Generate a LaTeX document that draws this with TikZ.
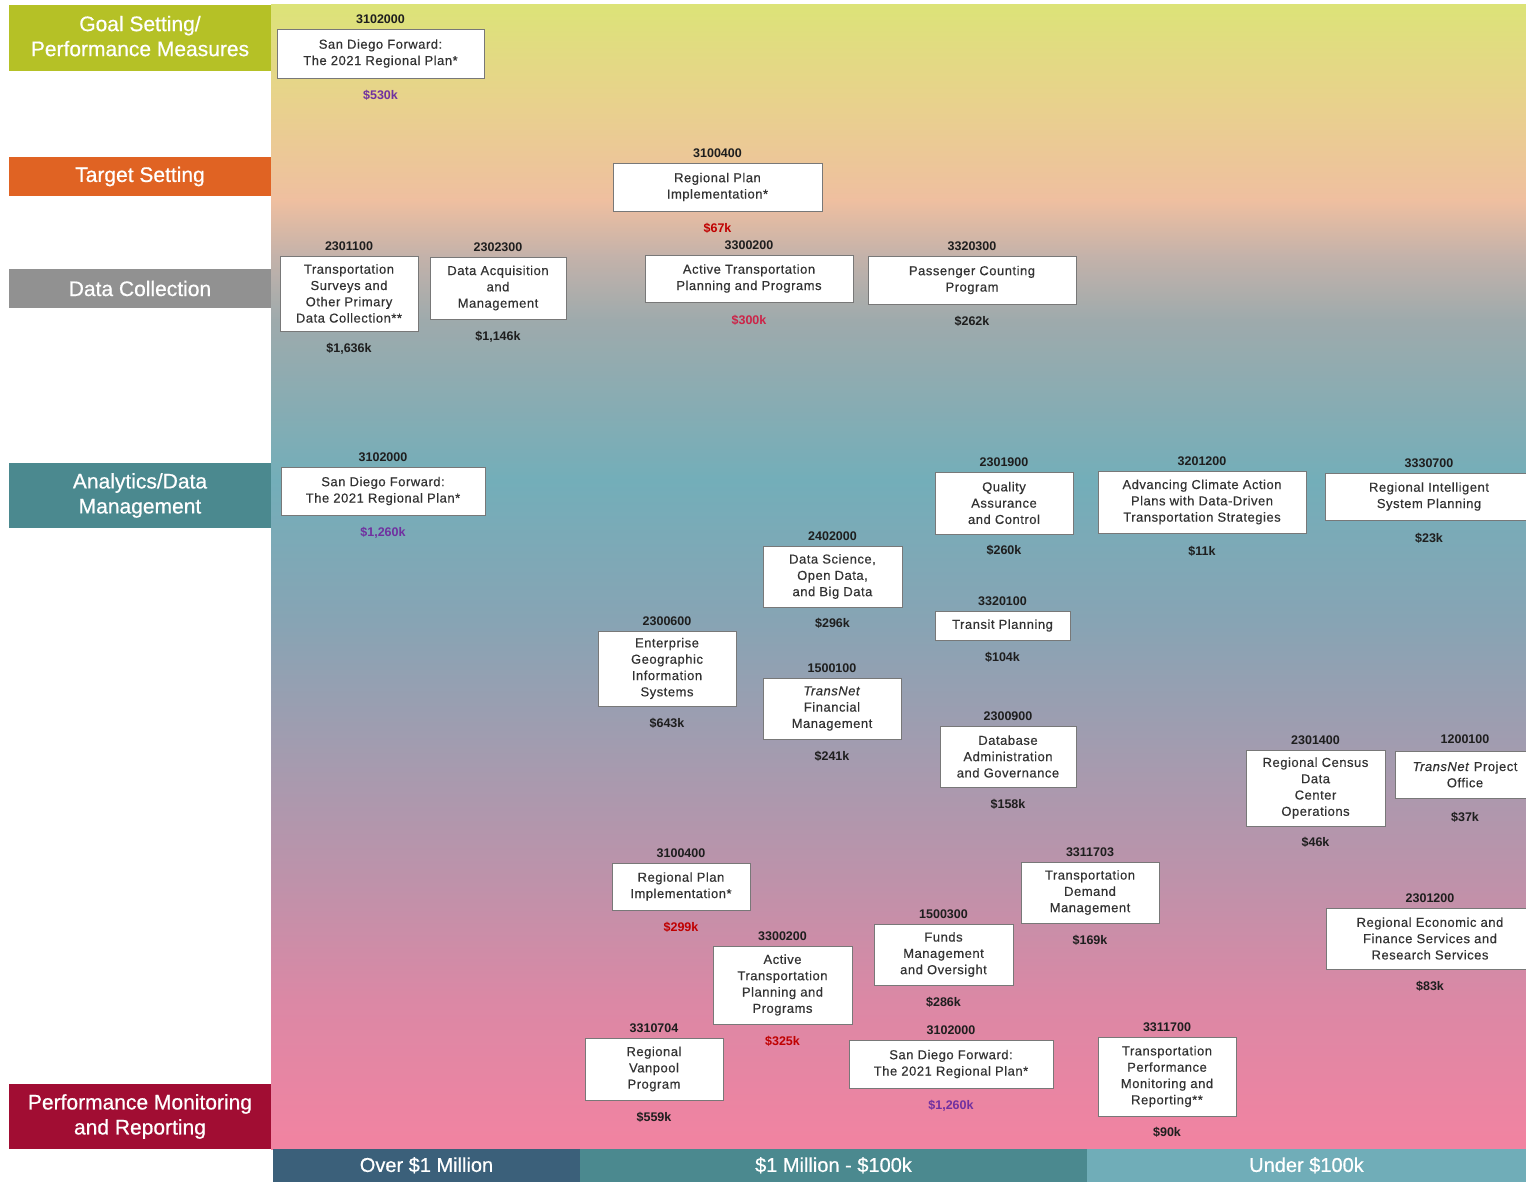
\documentclass[tikz,border=0pt]{standalone}
\usepackage{xcolor}
\usepackage{fontspec}
\setmainfont{Liberation Sans}
\newfontfamily\boxfont[LetterSpace=4,FakeBold=0.4]{Liberation Sans}
\newfontfamily\bandfont[FakeBold=0.6]{Liberation Sans}
\usetikzlibrary{positioning}

\definecolor{goalc}{RGB}{181,193,38}
\definecolor{targetc}{RGB}{224,99,35}
\definecolor{datac}{RGB}{145,145,145}
\definecolor{anac}{RGB}{75,137,143}
\definecolor{perfc}{RGB}{161,13,51}
\definecolor{overc}{RGB}{59,96,122}
\definecolor{midc}{RGB}{75,137,143}
\definecolor{underc}{RGB}{112,173,184}
\definecolor{boxline}{RGB}{120,120,120}
\definecolor{boxtext}{RGB}{50,50,50}
\definecolor{codetext}{RGB}{30,30,30}
\definecolor{amtpurple}{RGB}{112,48,160}
\definecolor{amtred}{RGB}{192,0,0}
\definecolor{amtrose}{RGB}{204,36,72}
% background stops, top to bottom
\definecolor{g0}{RGB}{220,227,120}
\definecolor{g1}{RGB}{232,210,140}
\definecolor{g2}{RGB}{239,191,160}
\definecolor{g3}{RGB}{196,178,170}
\definecolor{g4}{RGB}{158,170,172}
\definecolor{g5}{RGB}{115,174,185}
\definecolor{g6}{RGB}{135,164,180}
\definecolor{g7}{RGB}{165,155,175}
\definecolor{g8}{RGB}{190,146,170}
\definecolor{g9}{RGB}{219,136,165}
\definecolor{g10}{RGB}{242,131,161}

\tikzset{
  band/.style={fill=#1, text=white, minimum width=262pt, inner sep=0pt,
    align=center, font=\bandfont\fontsize{21}{25}\selectfont},
  bar/.style={fill=#1, text=white, minimum height=33pt, inner sep=0pt,
    text depth=2pt, font=\bandfont\fontsize{20}{24}\selectfont},
  prj/.style 2 args={draw=boxline, fill=white, line width=0.8pt, inner sep=0pt,
    minimum width=#1pt, minimum height=#2pt, align=center, text=boxtext,
    font=\boxfont\fontsize{13}{16.3}\selectfont},
  code/.style={font=\bfseries\fontsize{12.5}{14}\selectfont, text=codetext,
    inner sep=0pt, text height=9pt, text depth=0pt},
  amt/.style={font=\bfseries\fontsize{12.5}{14}\selectfont, text=#1,
    inner sep=0pt, text height=9pt, text depth=0pt},
  amt/.default=codetext
}

\begin{document}
\begin{tikzpicture}[x=1pt,y=-1pt]
  \useasboundingbox (0,0) rectangle (1526,1182);
  % background
  \foreach \ya/\yb/\ca/\cb in {5/100/g0/g1, 100/200/g1/g2, 200/255/g2/g3,
      255/320/g3/g4, 320/480/g4/g5, 480/620/g5/g6, 620/760/g6/g7,
      760/880/g7/g8, 880/1000/g8/g9, 1000/1149/g9/g10}
    \shade[top color=\ca, bottom color=\cb] (271,\ya) rectangle (1526,\yb+0.6);

  % left bands
  \node[band=goalc, minimum height=66pt] (goal) at (140,38) {Goal Setting/\\Performance Measures\rule[-4pt]{0pt}{1pt}};
  \node[band=targetc, minimum height=39pt] (target) at (140,176.5) {Target Setting};
  \node[band=datac, minimum height=39pt] (datacol) at (140,288.5) {Data Collection};
  \node[band=anac, minimum height=65pt] (analytics) at (140,495.5) {Analytics/Data\\Management\rule[-4pt]{0pt}{1pt}};
  \node[band=perfc, minimum height=65pt] (perfmon) at (140,1116.5) {Performance Monitoring\\and Reporting\rule[-4pt]{0pt}{1pt}};

  % bottom bars
  \node[bar=overc, minimum width=307pt] (over) at (426.5,1165.5) {Over \$1 Million};
  \node[bar=midc, minimum width=507pt] (mid) at (833.5,1165.5) {\$1 Million - \$100k};
  \node[bar=underc, minimum width=439pt] (under) at (1306.5,1165.5) {Under \$100k};

  % goal setting
  \node[prj={207}{49}] (g1) at (380.5,53.5) {San Diego Forward:\\The 2021 Regional Plan*};
  \node[code, above=5pt of g1] {3102000};
  \node[amt=amtpurple, below=11.5pt of g1] {\$530k};

  % target setting
  \node[prj={209}{48}] (t1) at (717.5,187) {Regional Plan\\Implementation*};
  \node[code, above=5pt of t1] {3100400};
  \node[amt=amtred, below=11.5pt of t1] {\$67k};

  % data collection
  \node[prj={138}{75}] (d1) at (349,293.5) {Transportation\\Surveys and\\Other Primary\\Data Collection**};
  \node[code, above=5pt of d1] {2301100};
  \node[amt, below=11.5pt of d1] {\$1,636k};

  \node[prj={136}{62}] (d2) at (498,288) {Data Acquisition\\and\\Management};
  \node[code, above=5pt of d2] {2302300};
  \node[amt, below=11.5pt of d2] {\$1,146k};

  \node[prj={208}{47}] (d3) at (749,278.5) {Active Transportation\\Planning and Programs};
  \node[code, above=5pt of d3] {3300200};
  \node[amt=amtrose, below=13pt of d3] {\$300k};

  \node[prj={208}{48}] (d4) at (972,280) {Passenger Counting\\Program};
  \node[code, above=5pt of d4] {3320300};
  \node[amt, below=12pt of d4] {\$262k};

  % analytics / data management
  \node[prj={204}{48}] (a1) at (383,491) {San Diego Forward:\\The 2021 Regional Plan*};
  \node[code, above=5pt of a1] {3102000};
  \node[amt=amtpurple, below=12pt of a1] {\$1,260k};

  \node[prj={138}{62}] (a2) at (1004,503) {Quality\\Assurance\\and Control};
  \node[code, above=5pt of a2] {2301900};
  \node[amt, below=11pt of a2] {\$260k};

  \node[prj={208}{62}] (a3) at (1202,502) {Advancing Climate Action\\Plans with Data-Driven\\Transportation Strategies};
  \node[code, above=5pt of a3] {3201200};
  \node[amt, below=13pt of a3] {\$11k};

  \node[prj={208}{47}] (a4) at (1429,496.5) {Regional Intelligent\\System Planning};
  \node[code, above=5pt of a4] {3330700};
  \node[amt, below=13pt of a4] {\$23k};

  \node[prj={139}{61}] (a5) at (832.5,576.5) {Data Science,\\Open Data,\\and Big Data};
  \node[code, above=5pt of a5] {2402000};
  \node[amt, below=11pt of a5] {\$296k};

  \node[prj={135}{29}] (a6) at (1002.5,625.5) {Transit Planning};
  \node[code, above=5pt of a6] {3320100};
  \node[amt, below=12pt of a6] {\$104k};

  \node[prj={138}{75}] (a7) at (667,668.5) {Enterprise\\Geographic\\Information\\Systems};
  \node[code, above=5pt of a7] {2300600};
  \node[amt, below=11.5pt of a7] {\$643k};

  \node[prj={138}{61}] (a8) at (832,708.5) {\textit{TransNet}\\Financial\\Management};
  \node[code, above=5pt of a8] {1500100};
  \node[amt, below=11.5pt of a8] {\$241k};

  \node[prj={136}{61}] (a9) at (1008,756.5) {Database\\Administration\\and Governance};
  \node[code, above=5pt of a9] {2300900};
  \node[amt, below=11.5pt of a9] {\$158k};

  \node[prj={139}{76}] (a10) at (1315.5,788) {Regional Census\\Data\\Center\\Operations};
  \node[code, above=5pt of a10] {2301400};
  \node[amt, below=11pt of a10] {\$46k};

  \node[prj={140}{47}] (a11) at (1465,774.5) {\textit{TransNet} Project\\Office};
  \node[code, above=7pt of a11] {1200100};
  \node[amt, below=14pt of a11] {\$37k};

  % performance monitoring and reporting
  \node[prj={138}{47}] (p1) at (681,886.5) {Regional Plan\\Implementation*};
  \node[code, above=5pt of p1] {3100400};
  \node[amt=amtred, below=12pt of p1] {\$299k};

  \node[prj={138}{61}] (p2) at (1090,892.5) {Transportation\\Demand\\Management};
  \node[code, above=5pt of p2] {3311703};
  \node[amt, below=12pt of p2] {\$169k};

  \node[prj={139}{61}] (p3) at (943.5,954.5) {Funds\\Management\\and Oversight};
  \node[code, above=5pt of p3] {1500300};
  \node[amt, below=12pt of p3] {\$286k};

  \node[prj={208}{61}] (p4) at (1430,938.5) {Regional Economic and\\Finance Services and\\Research Services};
  \node[code, above=5pt of p4] {2301200};
  \node[amt, below=11.5pt of p4] {\$83k};

  \node[prj={139}{78}] (p5) at (782.5,985) {Active\\Transportation\\Planning and\\Programs};
  \node[code, above=5pt of p5] {3300200};
  \node[amt=amtred, below=11.5pt of p5] {\$325k};

  \node[prj={138}{62}] (p6) at (654,1069) {Regional\\Vanpool\\Program};
  \node[code, above=5pt of p6] {3310704};
  \node[amt, below=11.5pt of p6] {\$559k};

  \node[prj={204}{48}] (p7) at (951,1064) {San Diego Forward:\\The 2021 Regional Plan*};
  \node[code, above=5pt of p7] {3102000};
  \node[amt=amtpurple, below=12pt of p7] {\$1,260k};

  \node[prj={138}{79}] (p8) at (1167,1076.5) {Transportation\\Performance\\Monitoring and\\Reporting**};
  \node[code, above=5pt of p8] {3311700};
  \node[amt, below=10.5pt of p8] {\$90k};
\end{tikzpicture}
\end{document}
